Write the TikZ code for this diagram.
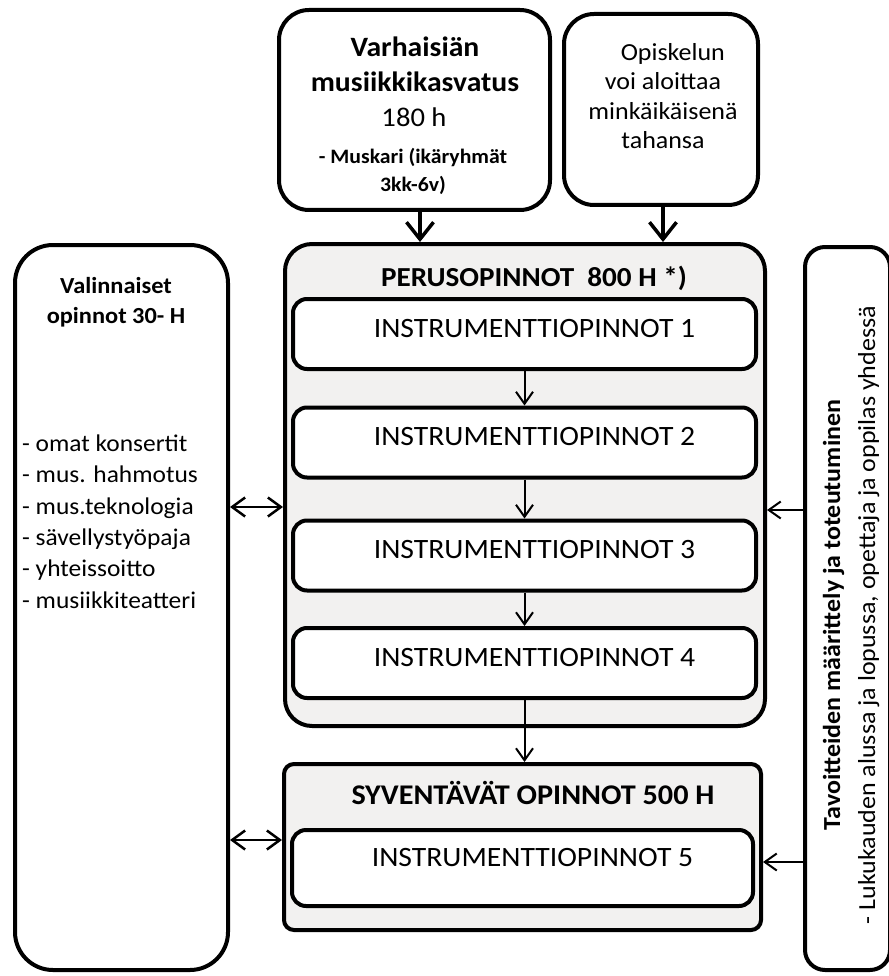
\documentclass[tikz,border=0pt]{standalone}
\usepackage{fontspec}
\setmainfont{Carlito}[FakeStretch=1.06]
\usetikzlibrary{arrows.meta,positioning}
\definecolor{panelgray}{RGB}{242,241,240}

\begin{document}
\begin{tikzpicture}[x=1pt,y=-1pt,
  box/.style={draw, line width=4pt, rounded corners=#1, fill=white, inner sep=0pt},
  box/.default=14pt,
  panel/.style={box=#1, fill=panelgray},
  txt/.style={inner sep=0pt, align=center, font=\fontsize{28}{31}\selectfont},
  bigarrow/.style={line width=3.5pt, -{Straight Barb[length=17pt, width=27pt]}},
  thinarrow/.style={line width=2pt, -{Straight Barb[length=12pt, width=17pt]}},
  dblarrow/.style={line width=2.5pt, {Straight Barb[length=13pt, width=19pt]}-{Straight Barb[length=13pt, width=19pt]}}]
\useasboundingbox (0,0) rectangle (888,976);

% top boxes
\node[box=30pt, minimum width=271pt, minimum height=200pt] (varh) at (414.5,110) {};
\node[txt, font=\bfseries\fontsize{28}{35}\selectfont] (varhT) at (415,64.5) {Varhaisiän\\musiikkikasvatus};
\node[txt, font=\fontsize{27}{31}\selectfont] (varhH) at (414,117) {180 h};
\node[txt, font=\bfseries\fontsize{20.5}{28}\selectfont] (varhM) at (413,171) {- Muskari (ikäryhmät\\3kk-6v)};

\node[box=30pt, minimum width=194pt, minimum height=191pt] (aloit) at (661,109.5) {};
\node[txt, font=\fontsize{24.5}{29.5}\selectfont] (aloitT) at (663,96) {\hspace{0.8em}Opiskelun\\voi aloittaa\\minkäikäisenä\\tahansa};

% perusopinnot
\node[panel=27pt, minimum width=480pt, minimum height=482pt] (per) at (525,485) {};
\node[txt, font=\bfseries\fontsize{27.5}{31}\selectfont] (perT) at (534,278) {PERUSOPINNOT~~800 H *)};
\foreach \n/\y in {1/334,2/442.5,3/555.5,4/663}{
  \node[box, minimum width=463pt, minimum height=70pt] (i\n) at (524.5,\y) {};
  \node[txt] (i\n T) at ([xshift=10pt,yshift=5.5pt]i\n.center) {INSTRUMENTTIOPINNOT \n};
}

% syventavat
\node[panel=10pt, minimum width=477pt, minimum height=166pt] (syv) at (522.5,847) {};
\node[txt, font=\bfseries\fontsize{28.5}{31}\selectfont] (syvT) at (533,793) {SYVENTÄVÄT OPINNOT 500 H};
\node[box, minimum width=461pt, minimum height=76pt] (i5) at (522.5,868) {};
\node[txt] (i5T) at ([xshift=10pt,yshift=10pt]i5.center) {INSTRUMENTTIOPINNOT 5};

% side boxes
\node[box=38pt, minimum width=213pt, minimum height=725pt] (valin) at (121.5,607.5) {};
\node[txt, font=\bfseries\fontsize{23}{30}\selectfont] (valinT) at (116,302) {Valinnaiset\\opinnot 30- H};
\node[txt, align=left, anchor=west, font=\fontsize{24}{31.4}\selectfont] (valinL) at (22,521.5)
  {- omat konsertit\\- mus. hahmotus\\- mus.teknologia\\- sävellystyöpaja\\- yhteissoitto\\- musiikkiteatteri};

\node[box=20pt, minimum width=85pt, minimum height=723pt] (tav) at (847.5,608.5) {};
\node[txt, rotate=90, font=\fontsize{24.5}{35}\selectfont] (tavT) at (851,615)
  {\textbf{Tavoitteiden määrittely ja toteutuminen}\\- Lukukauden alussa ja lopussa, opettaja ja oppilas yhdessä};

% arrows
\coordinate (vfoot) at ([xshift=5.5pt]varh.south);
\draw[bigarrow] (vfoot) -- (vfoot |- per.north);
\draw[bigarrow] ([xshift=2pt]aloit.south) -- ([xshift=2pt]aloit.south |- per.north);
\foreach \a/\b in {i1/i2,i2/i3,i3/i4}
  \draw[thinarrow] (\a.south) -- (\b.north);
\draw[thinarrow] (i4.south) -- (i4.south |- syv.north);
\draw[dblarrow] (valin.east |- 0,507) -- (per.west |- 0,507);
\draw[dblarrow] (valin.east |- 0,840) -- (syv.west |- 0,840);
\draw[thinarrow] (tav.west |- 0,510) -- (per.east |- 0,510);
\draw[thinarrow] (tav.west |- 0,862) -- (syv.east |- 0,862);
\end{tikzpicture}
\end{document}
